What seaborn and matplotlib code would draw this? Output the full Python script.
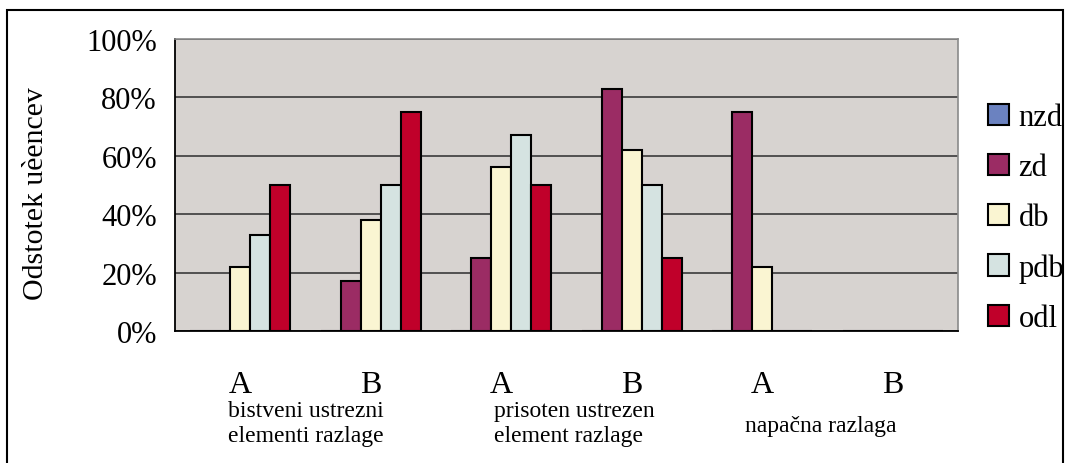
import numpy as np
import pandas as pd
import matplotlib
matplotlib.use("Agg")
import matplotlib.pyplot as plt
import seaborn as sns
from matplotlib.patches import Rectangle
from matplotlib.ticker import PercentFormatter

# podatki (delez ucencev, %)
kategorije = ["A", "B", "A", "B", "A", "B"]
serije = ["nzd", "zd", "db", "pdb", "odl"]
nzd = [0, 0, 0, 0, 0, 0]
zd = [0, 17, 25, 83, 75, 0]
db = [22, 38, 56, 62, 22, 0]
pdb = [33, 50, 67, 50, 0, 0]
odl = [50, 75, 50, 25, 0, 0]
skupine = ["bistveni ustrezni\nelementi razlage", "prisoten ustrezen\nelement razlage", "napačna razlaga"]

barve = ["#6b82c0", "#9b2c64", "#faf5d2", "#d5e3e1", "#c0002a"]

vrednosti = {"nzd": nzd, "zd": zd, "db": db, "pdb": pdb, "odl": odl}
vrstice = []
for s in serije:
    for i, v in enumerate(vrednosti[s]):
        vrstice.append({"poz": i, "serija": s, "delez": v / 100})
df = pd.DataFrame(vrstice)

sns.set_style("white")
plt.rcParams["font.family"] = ["Liberation Serif", "DejaVu Serif"]
plt.rcParams["text.color"] = "black"
plt.rcParams["axes.labelcolor"] = "black"
plt.rcParams["xtick.color"] = "black"
plt.rcParams["ytick.color"] = "black"

fig = plt.figure(figsize=(10.71, 4.64), dpi=100)
ax = fig.add_axes([175 / 1071, 1 - 332 / 464, 783 / 1071, 292 / 464])
ax.set_facecolor("#d7d3d0")

sns.barplot(data=df, x="poz", y="delez", hue="serija", hue_order=serije,
            order=list(range(len(kategorije))), palette=barve, width=0.766,
            saturation=1, edgecolor="black", linewidth=1.5, ax=ax,
            legend=True, zorder=3)

ax.set_xlim(-0.5, len(kategorije) - 0.5)
ax.set_ylim(0, 1)
ax.set_yticks(np.arange(0, 1.01, 0.2))
ax.yaxis.set_major_formatter(PercentFormatter(1.0, decimals=0))
ax.grid(axis="y", color="#3a3a3a", linewidth=1.2, zorder=1)
ax.set_axisbelow(True)

ax.set_xticks(range(len(kategorije)))
ax.set_xticklabels(kategorije)
ax.set_xticks(np.arange(-0.5, len(kategorije), 1), minor=True)
ax.tick_params(axis="x", which="major", length=0, pad=28, labelsize=23)
ax.tick_params(axis="x", which="minor", length=7, width=1.2, color="black", direction="out")
ax.tick_params(axis="y", length=7, width=1.2, color="#333333", direction="out", pad=6, labelsize=22)
ax.set_xlabel("")
ax.set_ylabel("Odstotek uèencev", fontsize=21.5)
ax.yaxis.set_label_coords(-0.161, 0.473)

for k in ["left", "bottom"]:
    ax.spines[k].set_color("black")
    ax.spines[k].set_linewidth(1.3)
for k in ["top", "right"]:
    ax.spines[k].set_color("#8a8a8a")
    ax.spines[k].set_linewidth(1.2)

ax.legend(loc="center left", bbox_to_anchor=(988 / 1071, 1 - 219 / 464),
          bbox_transform=fig.transFigure, frameon=False, fontsize=22,
          handlelength=0.7, handleheight=0.7, labelspacing=0.69,
          handletextpad=0.3, borderpad=0, borderaxespad=0)

# opisi skupin pod osjo
fig.text(228 / 1071, 1 - 424 / 464, skupine[0], fontsize=17, ha="left", va="center", linespacing=1.25)
fig.text(494 / 1071, 1 - 424 / 464, skupine[1], fontsize=17, ha="left", va="center", linespacing=1.25)
fig.text(745 / 1071, 1 - 427 / 464, skupine[2], fontsize=17, ha="left", va="center")

# okvir grafa
fig.add_artist(Rectangle((7 / 1071, -0.02), 1056 / 1071, 1 - 11 / 464 + 0.02,
                         transform=fig.transFigure, fill=False,
                         edgecolor="black", linewidth=1.5))

fig.savefig("out.png", dpi=100)
